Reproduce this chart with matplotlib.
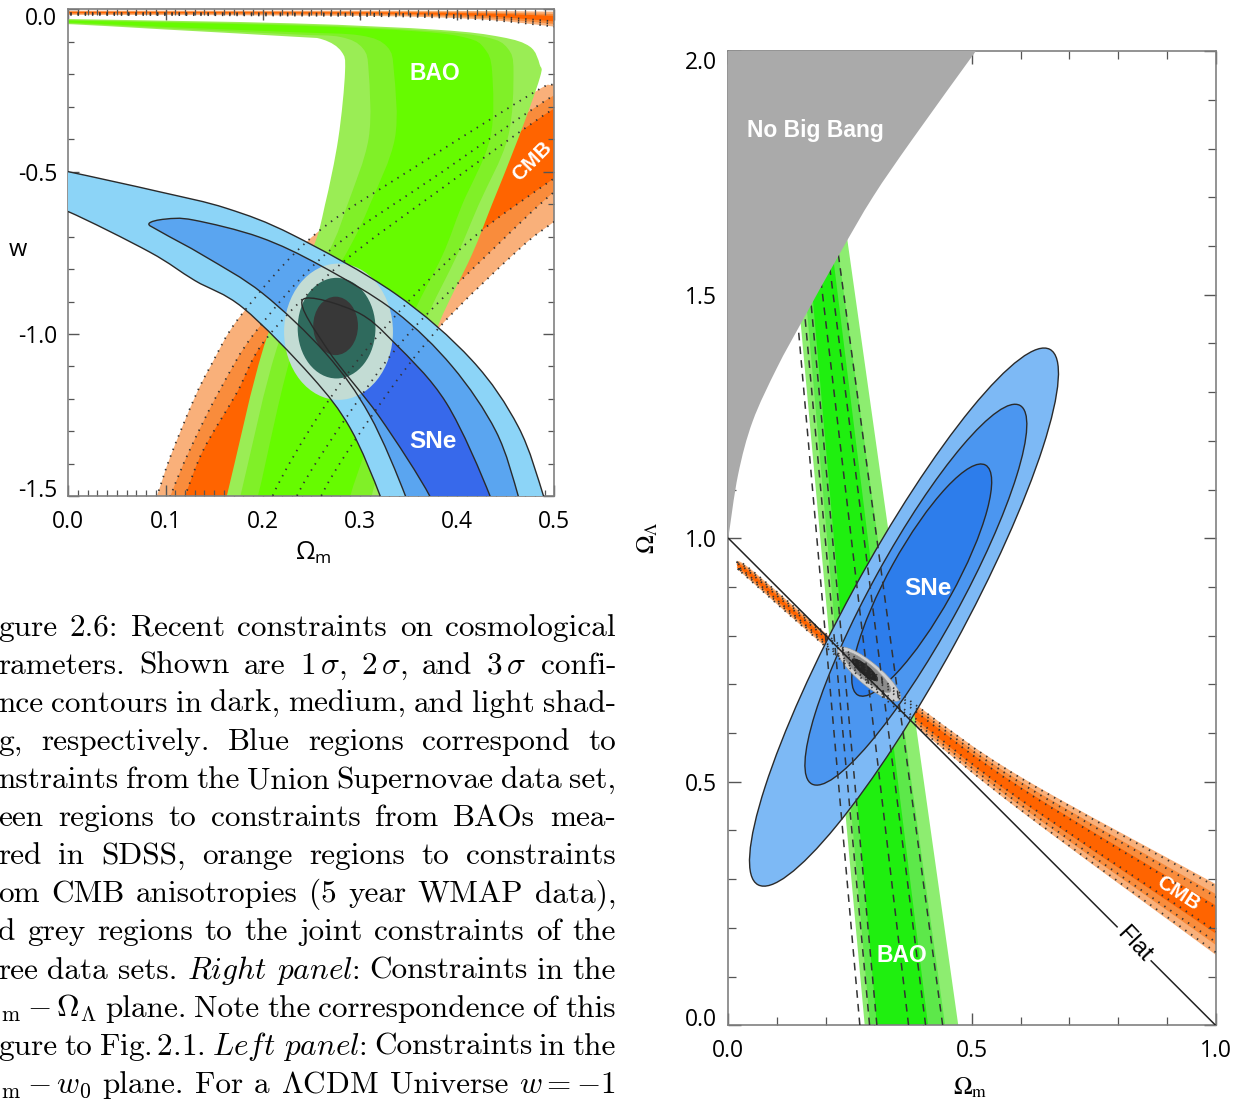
import numpy as np
import matplotlib
matplotlib.use("Agg")
import matplotlib.pyplot as plt
from matplotlib.path import Path
from matplotlib.patches import PathPatch, Ellipse, Polygon
from matplotlib.ticker import MultipleLocator
from matplotlib.transforms import ScaledTranslation

plt.rcParams["font.family"] = ["Open Sans", "DejaVu Sans"]
plt.rcParams["mathtext.fontset"] = "custom"
plt.rcParams["mathtext.rm"] = "Open Sans"
plt.rcParams["mathtext.it"] = "Open Sans:italic"
plt.rcParams["axes.unicode_minus"] = False

W, H = 1239, 1104

# ---------------- left panel: Omega_m vs w ----------------
w_xticks = [0.0, 0.1, 0.2, 0.3, 0.4, 0.5]
w_xlabels = ["0.0", "0.1", "0.2", "0.3", "0.4", "0.5"]
w_yticks = [0.0, -0.5, -1.0, -1.5]
w_ylabels = ["0.0", "-0.5", "-1.0", "-1.5"]

# CMB band edges (upper-left side u, lower-right side l), 3/2/1 sigma
cmb_w_u3 = [(0.072, -1.65), (0.091, -1.5), (0.105, -1.378), (0.129, -1.203), (0.146, -1.101),
            (0.178, -0.941), (0.255, -0.69), (0.365, -0.47), (0.48, -0.254), (0.5, -0.229), (0.55, -0.17)]
cmb_w_u2 = [(0.088, -1.65), (0.105, -1.5), (0.125, -1.357), (0.156, -1.172), (0.194, -0.988),
            (0.27, -0.74), (0.385, -0.5), (0.5, -0.264), (0.55, -0.2)]
cmb_w_u1 = [(0.102, -1.65), (0.12, -1.5), (0.139, -1.357), (0.173, -1.183), (0.204, -1.013),
            (0.28, -0.785), (0.385, -0.55), (0.5, -0.305), (0.55, -0.24)]
cmb_w_l1 = [(0.2, -1.65), (0.21, -1.5), (0.26, -1.24), (0.32, -1.0), (0.41, -0.72), (0.5, -0.52), (0.55, -0.42)]
cmb_w_l2 = [(0.225, -1.65), (0.235, -1.5), (0.29, -1.24), (0.35, -1.0), (0.44, -0.73), (0.5, -0.562), (0.55, -0.46)]
cmb_w_l3 = [(0.25, -1.65), (0.26, -1.5), (0.315, -1.24), (0.381, -0.982), (0.463, -0.741), (0.5, -0.654), (0.55, -0.55)]

# thin CMB strip along w = 0
cmb_top_x = [-0.02, 0.0, 0.3, 0.42, 0.5, 0.53]
cmb_top_hi = {3: [-0.004, -0.004, -0.004, -0.005, -0.007, -0.008],
              2: [-0.006, -0.006, -0.007, -0.009, -0.014, -0.017],
              1: [-0.008, -0.008, -0.009, -0.012, -0.02, -0.024]}
cmb_top_lo = {3: [-0.017, -0.017, -0.02, -0.03, -0.053, -0.065],
              2: [-0.014, -0.014, -0.016, -0.025, -0.045, -0.056],
              1: [-0.011, -0.011, -0.013, -0.02, -0.037, -0.047]}

# BAO contours (hook shaped), 3/2/1 sigma
bao_w_3 = [(0.15, -1.65), (0.163, -1.5), (0.204, -1.013), (0.25, -0.746), (0.264, -0.603), (0.2778, -0.397),
           (0.2847, -0.192), (0.281, -0.13), (0.262, -0.093), (0.2315, -0.084), (0.1, -0.062), (0.005, -0.046),
           (-0.03, -0.045), (-0.03, -0.03), (0.005, -0.03), (0.2315, -0.043), (0.381, -0.063), (0.445, -0.085),
           (0.475, -0.115), (0.485, -0.17), (0.485, -0.212), (0.463, -0.397), (0.4356, -0.603), (0.415, -0.757),
           (0.381, -0.97), (0.355, -1.2), (0.33, -1.5), (0.325, -1.65)]
bao_w_2 = [(0.165, -1.65), (0.177, -1.5), (0.218, -1.013), (0.268, -0.746), (0.287, -0.603), (0.309, -0.397),
           (0.309, -0.192), (0.303, -0.12), (0.28, -0.085), (0.2315, -0.077), (0.1, -0.058), (0.005, -0.043),
           (-0.03, -0.042), (-0.03, -0.033), (0.005, -0.033), (0.2315, -0.047), (0.37, -0.066), (0.43, -0.086),
           (0.452, -0.12), (0.458, -0.192), (0.452, -0.397), (0.422, -0.603), (0.4, -0.757), (0.366, -0.97),
           (0.342, -1.2), (0.312, -1.5), (0.305, -1.65)]
bao_w_1 = [(0.18, -1.65), (0.195, -1.5), (0.235, -1.013), (0.287, -0.746), (0.31, -0.603), (0.336, -0.397),
           (0.335, -0.192), (0.328, -0.115), (0.3, -0.08), (0.2315, -0.07), (0.1, -0.054), (0.005, -0.041),
           (-0.03, -0.04), (-0.03, -0.035), (0.005, -0.035), (0.2315, -0.05), (0.36, -0.068), (0.41, -0.088),
           (0.428, -0.12), (0.436, -0.192), (0.434, -0.397), (0.405, -0.603), (0.385, -0.757), (0.35, -0.97),
           (0.325, -1.2), (0.29, -1.5), (0.283, -1.65)]

# SNe band edges, 3 sigma open band, 2/1 sigma with closed tips
sne_w_u3 = [(-0.03, -0.485), (0.0, -0.5), (0.094, -0.562), (0.163, -0.613), (0.231, -0.695), (0.336, -0.875),
            (0.415, -1.08), (0.463, -1.286), (0.489, -1.5), (0.497, -1.6)]
sne_w_l3 = [(-0.03, -0.6), (0.0, -0.623), (0.084, -0.748), (0.13, -0.835), (0.18, -0.92), (0.25, -1.13),
            (0.29, -1.29), (0.321, -1.5), (0.33, -1.6)]
sne_w_u2 = [(0.083, -0.66), (0.1, -0.646), (0.129, -0.649), (0.197, -0.702), (0.26, -0.79), (0.336, -0.93),
            (0.395, -1.1), (0.44, -1.3), (0.463, -1.5), (0.47, -1.6)]
sne_w_l2 = [(0.083, -0.66), (0.095, -0.685), (0.14, -0.76), (0.2, -0.875), (0.265, -1.06), (0.31, -1.25),
            (0.347, -1.5), (0.355, -1.6)]
sne_w_u1 = [(0.241, -0.895), (0.296, -0.931), (0.336, -1.029), (0.389, -1.213), (0.434, -1.5), (0.44, -1.6)]
sne_w_l1 = [(0.241, -0.895), (0.267, -1.049), (0.32, -1.255), (0.372, -1.5), (0.38, -1.6)]

# joint constraints (3, 2, 1 sigma)
joint_w_center = [(0.278, -0.993), (0.276, -0.982), (0.275, -0.975)]
joint_w_width = [0.112, 0.08, 0.046]
joint_w_height = [0.42, 0.31, 0.18]

# ---------------- right panel: Omega_m vs Omega_Lambda ----------------
l_xticks = [0.0, 0.5, 1.0]
l_xlabels = ["0.0", "0.5", "1.0"]
l_yticks = [0.0, 0.5, 1.0, 1.5, 2.0]
l_ylabels = ["0.0", "0.5", "1.0", "1.5", "2.0"]

nbb_x = [0.0, 0.02, 0.05, 0.1, 0.153, 0.229, 0.297, 0.377, 0.508]
nbb_y = [1.0, 1.13, 1.24, 1.35, 1.448, 1.585, 1.701, 1.818, 2.0]

sne_l_center = [(0.3606, 0.838), (0.385, 0.884), (0.397, 0.914)]
sne_l_width = [1.252, 0.887, 0.54]
sne_l_height = [0.236, 0.18, 0.135]
sne_l_angle = [61.4, 61.2, 61.0]

# BAO band: x at Omega_L = 0 and at Omega_L = 1.7 for left/right edges
bao_l_y = [0.0, 1.7]
bao_l_left = {3: [0.28, 0.125], 2: [0.291, 0.141], 1: [0.305, 0.155]}
bao_l_right = {3: [0.472, 0.232], 2: [0.445, 0.21], 1: [0.41, 0.2]}
bao_l_dash = [[0.27, 0.12], [0.29, 0.135], [0.305, 0.15], [0.37, 0.17], [0.405, 0.19], [0.44, 0.21]]

cmb_l_x = [0.022, 0.035, 0.2, 0.39, 0.6, 1.0, 1.06]
cmb_l_up = [0.935, 0.945, 0.805, 0.655, 0.51, 0.29, 0.255]
cmb_l_lo = [0.935, 0.922, 0.776, 0.61, 0.44, 0.145, 0.1]
cmb_l_frac = {3: 1.0, 2: 0.72, 1: 0.4}
cmb_l_dots = [0.93, 0.64, 0.33]

joint_l_center = [(0.289, 0.721), (0.285, 0.725), (0.28, 0.73)]
joint_l_width = [0.165, 0.125, 0.07]
joint_l_height = [0.046, 0.032, 0.022]
joint_l_angle = -40

flat_x = [0.0, 1.0]
flat_y = [1.0, 0.0]

# colours
c_cmb = {3: "#f9b07a", 2: "#f98c3c", 1: "#ff6400"}
c_bao_w = {3: "#9aed55", 2: "#80f028", 1: "#66fb00"}
c_sne_w = {3: "#8cd4f7", 2: "#5aa5f0", 1: "#3769eb"}
c_joint_w = ["#c3dcd4", "#2f6a5d", "#383838"]
c_bao_l = {3: "#8ded70", 2: "#5de84a", 1: "#1fef0f"}
c_sne_l = ["#7db9f5", "#4b96f0", "#2d7deb"]
c_joint_l = ["#cfcfcf", "#8c8c8c", "#262626"]


def cr_verts(pts, closed):
    P = np.asarray(pts, float)
    n = len(P)
    verts, codes = [P[0]], [Path.MOVETO]
    nseg = n if closed else n - 1
    for i in range(nseg):
        i0 = (i - 1) % n if closed else max(i - 1, 0)
        i2 = (i + 1) % n
        i3 = (i + 2) % n if closed else min(i + 2, n - 1)
        p0, p1, p2, p3 = P[i0], P[i], P[i2], P[i3]
        verts += [p1 + (p2 - p0) / 6.0, p2 - (p3 - p1) / 6.0, p2]
        codes += [Path.CURVE4] * 3
    if closed:
        verts.append(P[0])
        codes.append(Path.CLOSEPOLY)
    return verts, codes


def smooth(pts, closed=True, **kw):
    v, c = cr_verts(pts, closed)
    return PathPatch(Path(v, c), **kw)


def style(ax, maj, mino):
    for s in ax.spines.values():
        s.set_color("#808080")
        s.set_linewidth(1.2)
    ax.tick_params(which="both", direction="in", top=True, right=True, color="#555555")
    ax.tick_params(which="major", length=maj, width=1.0, labelsize=16.5)
    ax.tick_params(which="minor", length=mino, width=0.9)


def nudge(ax, idx, dy_px):
    lbl = ax.yaxis.get_major_ticks()[idx].label1
    lbl.set_transform(lbl.get_transform() + ScaledTranslation(0, dy_px / 100, fig.dpi_scale_trans))


fig = plt.figure(figsize=(W / 100, H / 100), dpi=100)

# ======== left panel ========
ax1 = fig.add_axes([68.3 / W, 1 - 496.3 / H, 486.0 / W, 486.9 / H])
ax1.set_xlim(0, 0.5)
ax1.set_ylim(-1.5, 0)

dot = dict(fill=False, edgecolor="#333333", linewidth=1.3, linestyle=(0, (0.8, 3.2)))
cmb_u = {3: cmb_w_u3, 2: cmb_w_u2, 1: cmb_w_u1}
cmb_lw = {3: cmb_w_l3, 2: cmb_w_l2, 1: cmb_w_l1}
for k in (3, 2, 1):
    ax1.add_patch(smooth(cmb_u[k] + cmb_lw[k][::-1], facecolor=c_cmb[k], edgecolor="none", zorder=1))
    top = list(zip(cmb_top_x, cmb_top_hi[k])) + list(zip(cmb_top_x, cmb_top_lo[k]))[::-1]
    ax1.add_patch(smooth(top, facecolor=c_cmb[k], edgecolor="none", zorder=1))

for k, pts in ((3, bao_w_3), (2, bao_w_2), (1, bao_w_1)):
    ax1.add_patch(smooth(pts, facecolor=c_bao_w[k], edgecolor="none", zorder=2))

sne_edge = dict(edgecolor="#2a2a2a", linewidth=1.0)
ax1.add_patch(smooth(sne_w_u3 + sne_w_l3[::-1], facecolor=c_sne_w[3], edgecolor="none", zorder=3))
ax1.add_patch(smooth(sne_w_u2 + sne_w_l2[1:][::-1], facecolor=c_sne_w[2], edgecolor="none", zorder=3))
ax1.add_patch(smooth(sne_w_u1 + sne_w_l1[1:][::-1], facecolor=c_sne_w[1], edgecolor="none", zorder=3))

for (cx0, cy0), wd, ht, col in zip(joint_w_center, joint_w_width, joint_w_height, c_joint_w):
    ax1.add_patch(Ellipse((cx0, cy0), wd, ht, facecolor=col, edgecolor="none", zorder=4))

for pts in (sne_w_u3, sne_w_l3):
    ax1.add_patch(smooth(pts, closed=False, fill=False, zorder=5, **sne_edge))
ax1.add_patch(smooth(sne_w_u2 + sne_w_l2[1:][::-1], fill=False, zorder=5, **sne_edge))
ax1.add_patch(smooth(sne_w_u1 + sne_w_l1[1:][::-1], fill=False, zorder=5, **sne_edge))

for k in (3, 2, 1):
    ax1.add_patch(smooth(cmb_u[k], closed=False, zorder=6, **dot))
    ax1.add_patch(smooth(cmb_lw[k], closed=False, zorder=6, **dot))
    ax1.add_patch(smooth(list(zip(cmb_top_x, cmb_top_lo[k])), closed=False, zorder=6, **dot))

lab = dict(color="white", fontweight="bold", family="Liberation Sans", ha="center", va="center", zorder=7)
ax1.text(0.3776, -0.198, "BAO", fontsize=16.5, **lab)
ax1.text(0.4767, -0.469, "CMB", fontsize=15, rotation=45, **lab)
ax1.text(0.3755, -1.332, "SNe", fontsize=17.5, **lab)

ax1.set_xticks(w_xticks)
ax1.set_xticklabels(w_xlabels)
ax1.set_yticks(w_yticks)
ax1.set_yticklabels(w_ylabels)
ax1.xaxis.set_minor_locator(MultipleLocator(0.01))
ax1.yaxis.set_minor_locator(MultipleLocator(0.1))
style(ax1, 8, 4.5)
ax1.tick_params(axis="x", which="major", pad=10)
ax1.tick_params(axis="y", which="major", pad=8)

fig.text(18 / W, 1 - 250 / H, "w", fontsize=17, ha="center", va="center")
fig.text(313 / W, 1 - 553 / H, r"$\Omega_\mathrm{m}$", fontsize=18, ha="center", va="center",
         math_fontfamily="custom")

# ======== right panel ========
ax2 = fig.add_axes([728.3 / W, 1 - 1025.2 / H, 487.2 / W, 974.0 / H])
ax2.set_xlim(0, 1)
ax2.set_ylim(0, 2)

cx = np.asarray(cmb_l_x)
cc = (np.asarray(cmb_l_up) + np.asarray(cmb_l_lo)) / 2
ch = (np.asarray(cmb_l_up) - np.asarray(cmb_l_lo)) / 2
for k in (3, 2, 1):
    f = cmb_l_frac[k]
    up = list(zip(cx, cc + f * ch))
    lo = list(zip(cx, cc - f * ch))
    ax2.add_patch(smooth(up + lo[1:][::-1], facecolor=c_cmb[k], edgecolor="none", zorder=1))

for k in (3, 2, 1):
    poly = [(bao_l_left[k][0], bao_l_y[0]), (bao_l_left[k][1], bao_l_y[1]),
            (bao_l_right[k][1], bao_l_y[1]), (bao_l_right[k][0], bao_l_y[0])]
    ax2.add_patch(Polygon(poly, closed=True, facecolor=c_bao_l[k], edgecolor="none", zorder=2))

for (ex, ey), wd, ht, an, col in zip(sne_l_center, sne_l_width, sne_l_height, sne_l_angle, c_sne_l):
    ax2.add_patch(Ellipse((ex, ey), wd, ht, angle=an, facecolor=col, edgecolor="#2a2a2a",
                          linewidth=1.0, zorder=3))

for (ex, ey), wd, ht, col in zip(joint_l_center, joint_l_width, joint_l_height, c_joint_l):
    ax2.add_patch(Ellipse((ex, ey), wd, ht, angle=joint_l_angle, facecolor=col, edgecolor="#999999",
                          linewidth=0.4, zorder=4))

for xs in bao_l_dash:
    ax2.plot(xs, bao_l_y, color="#333333", linewidth=1.1, linestyle=(0, (5, 4)), zorder=5)

for f in cmb_l_dots:
    for s in (1, -1):
        pts = list(zip(cx, cc + s * f * ch))
        ax2.add_patch(smooth(pts, closed=False, zorder=5, **dot))

ax2.plot(flat_x, flat_y, color="#222222", linewidth=1.1, zorder=5.5)
ax2.text(0.833, 0.167, "Flat", fontsize=17, rotation=-47, ha="center", va="center", family="Liberation Sans",
         zorder=5.6, bbox=dict(facecolor="white", edgecolor="none", pad=2.5))

v, c = cr_verts(list(zip(nbb_x, nbb_y)), False)
v += [(0.6, 2.2), (-0.1, 2.2), (-0.1, 1.0), (nbb_x[0], nbb_y[0])]
c += [Path.LINETO, Path.LINETO, Path.LINETO, Path.CLOSEPOLY]
ax2.add_patch(PathPatch(Path(v, c), facecolor="#aaaaaa", edgecolor="none", zorder=6))

ax2.text(0.038, 1.838, "No Big Bang", fontsize=16.5, **{**lab, "ha": "left"})
ax2.text(0.409, 0.897, "SNe", fontsize=17.5, **lab)
ax2.text(0.357, 0.144, "BAO", fontsize=16.5, **lab)
ax2.text(0.923, 0.271, "CMB", fontsize=15, rotation=-33, **lab)

ax2.set_xticks(l_xticks)
ax2.set_xticklabels(l_xlabels)
ax2.set_yticks(l_yticks)
ax2.set_yticklabels(l_ylabels)
ax2.xaxis.set_minor_locator(MultipleLocator(0.1))
ax2.yaxis.set_minor_locator(MultipleLocator(0.1))
style(ax2, 9, 6)
ax2.tick_params(axis="x", which="major", pad=10)
ax2.tick_params(axis="y", which="major", pad=8)

fig.text(648 / W, 1 - 538 / H, r"$\Omega_\Lambda$", fontsize=18, rotation=90, ha="center", va="center",
         math_fontfamily="stix")
fig.text(970 / W, 1 - 1088 / H, r"$\Omega_\mathrm{m}$", fontsize=18, ha="center", va="center",
         math_fontfamily="stix")

# end tick labels sit slightly inside the frame
nudge(ax1, 0, -7)
nudge(ax1, 3, 8)
nudge(ax2, 0, 8)
nudge(ax2, 4, -9)

# ======== caption (justified lines, left part cut off by the page edge) ========
caption = [
    ["gure", "2.6:", "Recent", "constraints", "on", "cosmological"],
    ["rameters.", "Shown", "are", r"$1\,\sigma$,", r"$2\,\sigma$,", "and", r"$3\,\sigma$", "confi-"],
    ["nce", "contours", "in", "dark,", "medium,", "and", "light", "shad-"],
    ["g,", "respectively.", "Blue", "regions", "correspond", "to"],
    ["nstraints", "from", "the", "Union", "Supernovae", "data", "set,"],
    ["een", "regions", "to", "constraints", "from", "BAOs", "mea-"],
    ["red", "in", "SDSS,", "orange", "regions", "to", "constraints"],
    ["om", "CMB", "anisotropies", "(5", "year", "WMAP", "data),"],
    ["d", "grey", "regions", "to", "the", "joint", "constraints", "of", "the"],
    ["ree", "data", "sets.", r"$\mathit{Right}$", r"$\mathit{panel}$:", "Constraints", "in", "the"],
    [r"$_\mathrm{m}-\Omega_\Lambda$", "plane.", "Note", "the", "correspondence", "of", "this"],
    ["gure", "to", r"Fig.$\,$2.1.", r"$\mathit{Left}$", r"$\mathit{panel}$:", "Constraints", "in", "the"],
    [r"$_\mathrm{m}-w_0$", "plane.", "For", "a", r"$\Lambda$CDM", "Universe", r"$w=-1$"],
]
cap_x0 = [-2, -2, -2, -2, -2, -2, -2, -2, -2, -2, 0, -2, 0]
cap_x1 = 616
cap_base0 = 635.7
cap_step = 38.1

renderer = fig.canvas.get_renderer()
for i, words in enumerate(caption):
    yb = 1 - (cap_base0 + i * cap_step) / H
    texts = [fig.text(0, yb, wd, fontsize=22.5, family="cmr10", math_fontfamily="cm",
                      ha="left", va="baseline") for wd in words]
    widths = [t.get_window_extent(renderer).width for t in texts]
    gap = (cap_x1 - cap_x0[i] - sum(widths)) / (len(words) - 1)
    x = cap_x0[i]
    for t, wdt in zip(texts, widths):
        t.set_x(x / W)
        x += wdt + gap

fig.savefig("out.png", dpi=100, facecolor="white")
